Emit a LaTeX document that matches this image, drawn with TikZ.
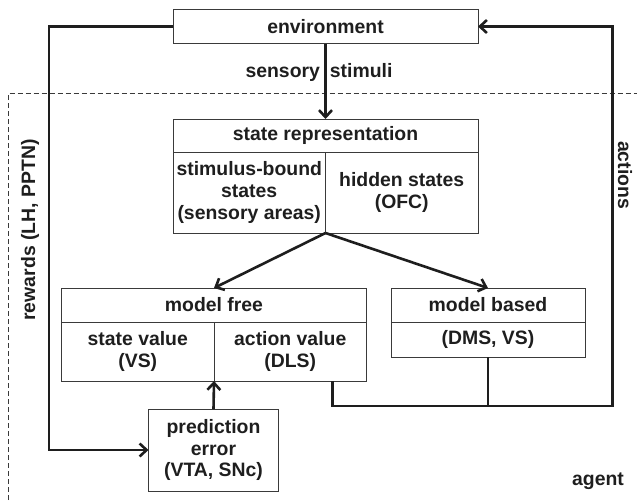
\documentclass[tikz,border=0pt]{standalone}
\usepackage{fontspec}
\setmainfont{Liberation Sans}
\usepackage{tikz}
\usetikzlibrary{arrows.meta}
\definecolor{inkgray}{HTML}{1E1E1E}
\definecolor{boxgray}{HTML}{3A3A3A}
\newcommand{\boxfont}{\fontsize{9.7}{10.9}\selectfont\bfseries}
\tikzstyle{cell}=[draw=boxgray, line width=0.5pt, inner xsep=1pt, inner ysep=0pt, outer sep=0,
                  align=center, font=\boxfont, text=inkgray]
\tikzstyle{wide}=[cell, minimum width=152.5pt]
\tikzstyle{half}=[cell, minimum width=76.25pt]
\tikzstyle{link}=[draw=inkgray, line width=1.3pt]
\tikzstyle{feed}=[link, -{Straight Barb[length=3.5pt, width=6.5pt]}]
\tikzstyle{caption}=[font=\boxfont, text=inkgray, inner sep=0]
\tikzstyle{flow}=[x=0.5pt, y=-0.5pt,
                  % Pixel grid of the figure, y pointing down.
                  execute at begin picture={\useasboundingbox (0, 0) rectangle (637, 500);}]
\begin{document}
\begin{tikzpicture}[flow]
    % agent boundary
    \draw[boxgray, line width=0.5pt, dash pattern=on 2.5pt off 1.5pt] (8, 500) -- (8, 93.5) -- (637, 93.5);
    \node[wide, minimum height=17pt] (env) at (325.5, 26.5) {environment};
    \node[wide, minimum height=16.75pt] (srhead) at (325.5, 135.75) {state representation};
    \node[half, minimum height=40.25pt] (srleft) at (249.25, 192.75) {stimulus-bound\\states\\(sensory areas)};
    \node[half, minimum height=40.25pt] (srright) at (401.75, 192.75) {hidden states\\(OFC)};
    \node[wide, minimum height=17pt] (mfhead) at (214, 305) {model free};
    \node[half, minimum height=29.5pt] (mfleft) at (137.75, 351.5) {state value\\(VS)};
    \node[half, minimum height=29.5pt] (mfright) at (290.25, 351.5) {action value\\(DLS)};
    \node[cell, minimum width=97pt, minimum height=17pt] (mbhead) at (488, 305) {model based};
    \node[cell, minimum width=97pt, minimum height=17.5pt] (mbbody) at (488, 339.5) {(DMS, VS)};
    \node[cell, minimum width=65pt, minimum height=41pt] (pe) at (213.5, 450) {prediction\\error\\(VTA, SNc)};
    \coordinate (rwx) at (49, 0);
    \coordinate (actc) at (612.5, 406);
    \node[caption] (stim) at (319, 72) {sensory\hspace{5pt}stimuli};
    \node[caption, rotate=90] (rewards) at (30, 230) {rewards (LH, PPTN)};
    \node[caption, rotate=-90] (actions) at (625, 175) {actions};
    \node[caption] (agent) at (598, 481) {agent};
    \draw[feed] (env.south) -- (srhead.north);
    \draw[feed] (srleft.south east) -- (mfhead.north);
    \draw[feed] (srleft.south east) -- (mbhead.north);
    \draw[feed] (pe.north) -- (mfleft.south east);
    \draw[feed] (env.west) -| (rwx |- pe.west) -- (pe.west);
    \draw[feed] ([xshift=-17pt]mfright.south east) |- (actc) |- (env.east);
    \draw[link] (mbbody.south) -- (mbbody.south |- actc);
\end{tikzpicture}
\end{document}
